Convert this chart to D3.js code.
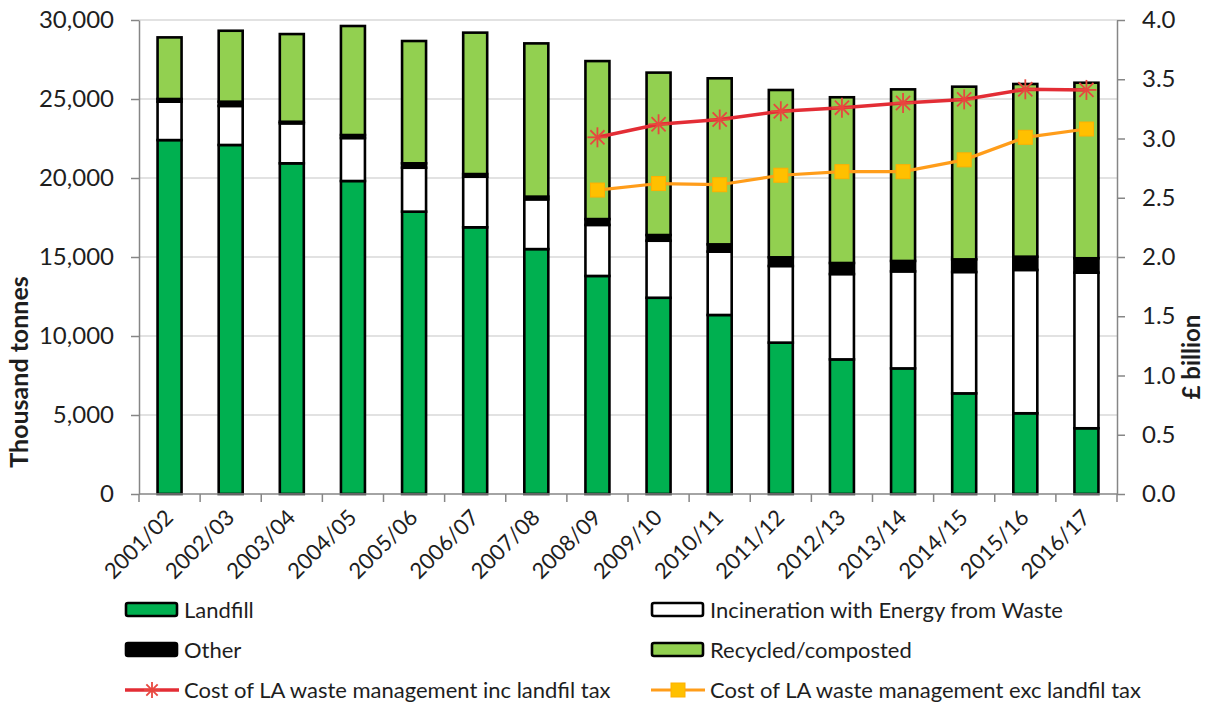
<!DOCTYPE html>
<html>
<head>
<meta charset="utf-8">
<script src="https://cdn.jsdelivr.net/npm/d3@7/dist/d3.min.js"></script>
<style>
  html, body { margin: 0; padding: 0; background: #fff; }
  svg { display: block; font-family: Lato, "Open Sans", sans-serif; }
</style>
</head>
<body>
<svg id="chart" width="1208" height="704"></svg>
<script>
const categories = ["2001/02","2002/03","2003/04","2004/05","2005/06","2006/07","2007/08","2008/09","2009/10","2010/11","2011/12","2012/13","2013/14","2014/15","2015/16","2016/17"];
const landfill     = [22400,22090,20930,19810,17870,16880,15500,13800,12420,11330,9580,8520,7950,6370,5110,4160];
const incineration = [2430,2470,2530,2720,2780,3200,3150,3230,3610,4010,4850,5400,6140,7680,9070,9850];
const other        = [170,270,100,190,280,170,170,370,360,460,550,700,660,800,840,910];
const recycled     = [3900,4490,5550,6900,7740,8950,9700,10000,10280,10510,10590,10490,10860,10930,10930,11110];
const costInc = [null,null,null,null,null,null,null,3.01,3.12,3.16,3.23,3.26,3.30,3.33,3.415,3.41];
const costExc = [null,null,null,null,null,null,null,2.565,2.62,2.61,2.69,2.72,2.72,2.82,3.01,3.08];
const leftTicks  = [0,5000,10000,15000,20000,25000,30000];
const rightTicks = [0,0.5,1,1.5,2,2.5,3,3.5,4];

const seriesNames = ["Landfill","Incineration with Energy from Waste","Other","Recycled/composted"];
const seriesColors = ["#00B050","#FFFFFF","#000000","#92D050"];
const lineNames = ["Cost of LA waste management inc landfil tax","Cost of LA waste management exc landfil tax"];

const svg = d3.select("#chart");
const L = 139, R = 1117, T = 20, B = 494;
const textColor = "#1e1e1e";

const x = d3.scaleBand().domain(categories).range([L, R]).paddingInner(0.6).paddingOuter(0.3);
const yL = d3.scaleLinear().domain([0, 30000]).range([B, T]);
const yR = d3.scaleLinear().domain([0, 4]).range([B, T]);

// gridlines
svg.append("g").selectAll("line").data(leftTicks.filter(d => d > 0)).join("line")
  .attr("x1", L).attr("x2", R)
  .attr("y1", d => yL(d)).attr("y2", d => yL(d))
  .attr("stroke", "#d9d9d9").attr("stroke-width", 1.5);

// stacked bars
const table = categories.map((c, i) => ({cat: c, landfill: landfill[i], incineration: incineration[i], other: other[i], recycled: recycled[i]}));
const keys = ["landfill","incineration","other","recycled"];
const stack = d3.stack().keys(keys)(table);
const bw = 24;
svg.append("g").selectAll("g").data(stack).join("g")
  .attr("fill", (d, i) => seriesColors[i])
  .selectAll("rect").data(d => d).join("rect")
  .attr("x", d => x(d.data.cat) + x.bandwidth() / 2 - bw / 2)
  .attr("width", bw)
  .attr("y", d => yL(d[1]))
  .attr("height", d => yL(d[0]) - yL(d[1]))
  .attr("stroke", "#000").attr("stroke-width", 2.6);

// axes
const axisColor = "#868686";
const gL = svg.append("g").attr("transform", `translate(${L},0)`)
  .call(d3.axisLeft(yL).tickValues(leftTicks).tickFormat(d3.format(",")).tickSize(8).tickSizeOuter(0).tickPadding(17));
const gR = svg.append("g").attr("transform", `translate(${R},0)`)
  .call(d3.axisRight(yR).tickValues(rightTicks).tickFormat(d3.format(".1f")).tickSize(8).tickSizeOuter(0).tickPadding(17));
[gL, gR].forEach(g => {
  g.select(".domain").attr("stroke", axisColor).attr("stroke-width", 1.5);
  g.selectAll(".tick line").attr("stroke", axisColor).attr("stroke-width", 1.5);
  g.selectAll(".tick text").attr("fill", textColor).style("font-size", "24px").style("font-family", "Lato");
});

// bottom axis
const bounds = d3.range(categories.length + 1).map(i => L + i * (R - L) / categories.length);
svg.append("line").attr("x1", L).attr("x2", R).attr("y1", B).attr("y2", B)
  .attr("stroke", axisColor).attr("stroke-width", 1.5);
svg.append("g").selectAll("line").data(bounds).join("line")
  .attr("x1", d => d).attr("x2", d => d).attr("y1", B).attr("y2", B + 8)
  .attr("stroke", axisColor).attr("stroke-width", 1.5);
svg.append("g").selectAll("text").data(categories).join("text")
  .attr("transform", d => `translate(${x(d) + x.bandwidth() / 2 + 5},${B + 25}) rotate(-45)`)
  .attr("text-anchor", "end")
  .attr("fill", textColor)
  .style("font-size", "22px")
  .text(d => d);

// lines
const lineDefs = [
  {vals: costInc, color: "#E32D35", width: 3.5},
  {vals: costExc, color: "#FF9D1A", width: 3.2}
];
lineDefs.forEach(ld => {
  const pts = categories.map((c, i) => ({cat: c, v: ld.vals[i]})).filter(p => p.v != null);
  svg.append("path").datum(pts)
    .attr("fill", "none").attr("stroke", ld.color).attr("stroke-width", ld.width)
    .attr("d", d3.line().x(p => x(p.cat) + x.bandwidth() / 2).y(p => yR(p.v)));
  ld.pts = pts;
});
// asterisk markers
function asterisk(g, cx, cy, r, color) {
  const a = g.append("g").attr("transform", `translate(${cx},${cy})`).attr("stroke", color).attr("stroke-width", 1.8);
  [0, 45, 90, 135].forEach(ang => {
    const rad = ang * Math.PI / 180;
    a.append("line").attr("x1", -r * Math.cos(rad)).attr("y1", -r * Math.sin(rad))
      .attr("x2", r * Math.cos(rad)).attr("y2", r * Math.sin(rad));
  });
}
const mk = svg.append("g");
lineDefs[0].pts.forEach(p => asterisk(mk, x(p.cat) + x.bandwidth() / 2, yR(p.v), 10, "#E8473F"));
mk.selectAll("rect.sq").data(lineDefs[1].pts).join("rect").attr("class", "sq")
  .attr("x", p => x(p.cat) + x.bandwidth() / 2 - 7).attr("y", p => yR(p.v) - 7)
  .attr("width", 14).attr("height", 14)
  .attr("fill", "#FFC000").attr("stroke", "#FFB000").attr("stroke-width", 1);

// axis titles
svg.append("text").attr("transform", `translate(28,372) rotate(-90)`)
  .attr("text-anchor", "middle").attr("fill", textColor)
  .style("font-size", "25px").style("font-weight", "bold").text("Thousand tonnes");
svg.append("text").attr("transform", `translate(1200,357) rotate(-90)`)
  .attr("text-anchor", "middle").attr("fill", textColor)
  .style("font-size", "24px").style("font-weight", "bold").text("£ billion");

// legend
const legend = svg.append("g").style("font-size", "22px");
const legItems = [
  {type: "bar", name: seriesNames[0], color: seriesColors[0], col: 0, row: 0},
  {type: "bar", name: seriesNames[1], color: seriesColors[1], col: 1, row: 0},
  {type: "bar", name: seriesNames[2], color: seriesColors[2], col: 0, row: 1},
  {type: "bar", name: seriesNames[3], color: seriesColors[3], col: 1, row: 1},
  {type: "inc", name: lineNames[0], col: 0, row: 2},
  {type: "exc", name: lineNames[1], col: 1, row: 2}
];
const colX = [125, 651];
const rowY = [610, 650, 690];
legItems.forEach(it => {
  const gx = colX[it.col], gy = rowY[it.row];
  const g = legend.append("g");
  if (it.type === "bar") {
    g.append("rect").attr("x", gx + 1).attr("y", gy - 7).attr("width", 51).attr("height", 13)
      .attr("rx", 2).attr("fill", it.color).attr("stroke", "#000").attr("stroke-width", 2.6);
  } else if (it.type === "inc") {
    g.append("line").attr("x1", gx).attr("x2", gx + 54).attr("y1", gy).attr("y2", gy)
      .attr("stroke", "#E32D35").attr("stroke-width", 3.5);
    asterisk(g, gx + 27, gy, 8, "#E8473F");
  } else {
    g.append("line").attr("x1", gx).attr("x2", gx + 54).attr("y1", gy).attr("y2", gy)
      .attr("stroke", "#FF9D1A").attr("stroke-width", 3.2);
    g.append("rect").attr("x", gx + 20).attr("y", gy - 7).attr("width", 14).attr("height", 14)
      .attr("fill", "#FFC000").attr("stroke", "#FFB000");
  }
  g.append("text").attr("x", gx + 59).attr("y", gy).attr("dy", "0.35em")
    .attr("fill", textColor).text(it.name);
});
</script>
</body>
</html>
